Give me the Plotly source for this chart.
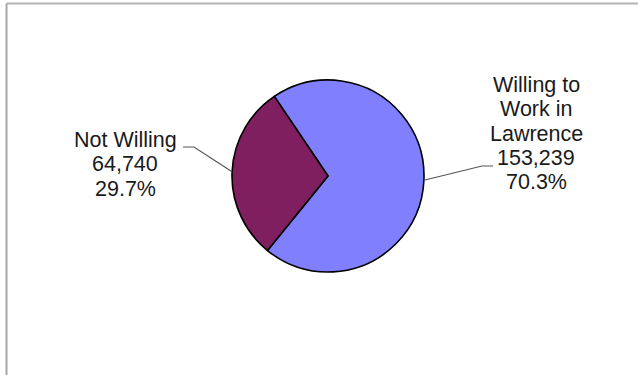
import math
import plotly.graph_objects as go

# Survey responses: willingness to work in Lawrence
categories = ["Willing to Work in Lawrence", "Not Willing"]
counts = [153239, 64740]
label_lines = [
    ["Willing to", "Work in", "Lawrence", "153,239", "70.3%"],
    ["Not Willing", "64,740", "29.7%"],
]
colors = ["#8080ff", "#7f1f5f"]

W, H = 638, 375
ROTATION = -34          # start of the first slice, degrees clockwise from 12 o'clock
CX, CY, R = 328, 176, 96  # pie centre and radius in pixels
FONT = dict(family="Liberation Sans, Arial, sans-serif", size=21.5, color="#1a1a1a")
LINE_H = 24.3


def px(x):
    return x / W


def py(y):
    return 1 - y / H


fig = go.Figure(
    go.Pie(
        labels=categories,
        values=counts,
        sort=False,
        direction="clockwise",
        rotation=ROTATION,
        marker=dict(colors=colors, line=dict(color="black", width=1.6)),
        textinfo="none",
        hoverinfo="label+value+percent",
        showlegend=False,
        domain=dict(x=[px(CX - R), px(CX + R)], y=[py(CY + R), py(CY - R)]),
    )
)

# label block layout: centre x, first-line centre y, elbow point, end of horizontal tick
blocks = [
    dict(cx=536, y0=85, elbow=(482, 166), tick=(493, 166)),
    dict(cx=125, y0=140, elbow=(194, 147), tick=(183, 147)),
]

total = sum(counts)
start = ROTATION
shapes = []
annotations = []
for val, lines, blk in zip(counts, label_lines, blocks):
    span = 360 * val / total
    mid = math.radians(start + span / 2)
    start += span
    ex, ey = CX + R * math.sin(mid), CY - R * math.cos(mid)
    (bx, by), (tx, ty) = blk["elbow"], blk["tick"]
    shapes.append(dict(
        type="path", xref="paper", yref="paper",
        path=f"M {px(ex)},{py(ey)} L {px(bx)},{py(by)} L {px(tx)},{py(ty)}",
        line=dict(color="#555555", width=1.2),
    ))
    for i, txt in enumerate(lines):
        annotations.append(dict(
            text=txt, xref="paper", yref="paper",
            x=px(blk["cx"]), y=py(blk["y0"] + i * LINE_H),
            xanchor="center", yanchor="middle", showarrow=False, font=FONT,
        ))

# chart frame (top and left edges)
shapes.append(dict(type="line", xref="paper", yref="paper",
                   x0=px(6.5), x1=1, y0=py(3.5), y1=py(3.5),
                   line=dict(color="#b4b4b4", width=2)))
shapes.append(dict(type="line", xref="paper", yref="paper",
                   x0=px(6.5), x1=px(6.5), y0=0, y1=py(3.5),
                   line=dict(color="#a8a8a8", width=2)))

fig.update_layout(
    width=W, height=H,
    margin=dict(l=0, r=0, t=0, b=0),
    paper_bgcolor="white", plot_bgcolor="white",
    shapes=shapes, annotations=annotations,
)

fig.write_html("out.html")
